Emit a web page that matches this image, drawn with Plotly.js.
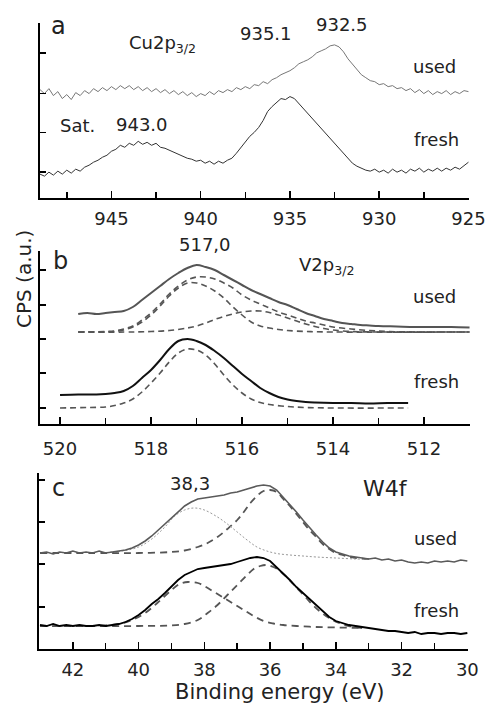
<!DOCTYPE html>
<html>
<head>
<meta charset="utf-8">
<script src="https://cdn.plot.ly/plotly-3.0.1.min.js"></script>
<style>html,body{margin:0;padding:0;background:#fff;}#chart{width:486px;height:703px;}</style>
</head>
<body>
<div id="chart"></div>
<script>
// ---------- Panel a: Cu2p3/2 ----------
const cuEnergy = [949,948.75,948.5,948.25,948,947.75,947.5,947.25,947,946.75,946.5,946.25,946,945.75,945.5,945.25,945,944.75,944.5,944.25,944,943.75,943.5,943.25,943,942.75,942.5,942.25,942,941.75,941.5,941.25,941,940.75,940.5,940.25,940,939.75,939.5,939.25,939,938.75,938.5,938.25,938,937.75,937.5,937.25,937,936.75,936.5,936.25,936,935.75,935.5,935.25,935,934.75,934.5,934.25,934,933.75,933.5,933.25,933,932.75,932.5,932.25,932,931.75,931.5,931.25,931,930.75,930.5,930.25,930,929.75,929.5,929.25,929,928.75,928.5,928.25,928,927.75,927.5,927.25,927,926.75,926.5,926.25,926,925.75,925.5,925.25,925];
const cuUsed = [109,105,110,103,107,100,104,99,106,103,108,105,110,107,111,108,112,109,113,110,113,109,112,108,111,107,110,106,109,105,108,104,107,103,106,102,105,103,107,104,108,106,109,107,111,109,112,110,114,113,117,115,119,121,124,126,128,131,135,137,139,142,146,148,150,153,154,152,147,140,135,129,124,121,118,117,114,115,112,113,110,111,108,110,106,109,105,108,104,107,105,108,104,107,105,108,107];
const cuFresh = [24,22,26,23,27,24,28,25,29,27,31,33,36,38,41,43,47,49,53,51,55,53,57,54,56,53,55,51,50,48,46,44,42,40,39,37,38,35,37,34,37,35,38,40,45,51,56,62,66,71,78,87,92,96,100,99,102,100,95,89,84,80,74,70,65,60,55,50,45,39,35,32,30,28,27,29,26,28,25,29,26,28,25,29,27,30,26,29,27,30,27,30,28,31,29,33,36];

// ---------- Panel b: V2p3/2 ----------
const vUsedE = [519.6,519.4,519.2,519.0,518.8,518.6,518.4,518.2,518.0,517.8,517.6,517.4,517.2,517.0,516.8,516.6,516.4,516.2,516.0,515.8,515.6,515.4,515.2,515.0,514.8,514.6,514.4,514.2,514.0,513.8,513.6,513.4,513.2,513.0,512.6,512.2,511.8,511.4,511.0];
const vUsed = [110,111,110,111,112,113,117,124,131,138,145,151,156,159,157,154,149,144,139,134,130,126,122,119,115,111,108,105,103,101,100,99,98.5,98,97.5,97,97,97,96.5];
const vUsedEnvE = [519.6,519.0,518.8,518.6,518.4,518.2,518.0,517.8,517.6,517.4,517.2,517.0,516.8,516.6,516.4,516.2,516.0,515.8,515.6,515.4,515.2,515.0,514.8,514.6,514.4,514.2,514.0,513.6,513.2,512.8,512.0,511.0];
const vUsedEnv = [92,92.5,93,95,98,104,111,120,130,138,144,147,147,145,141,136,129,124,120,116,112,109,106,103,101,99,97,95,93.5,92.5,92,92];
const vUsedC1E = [519.6,519.0,518.8,518.6,518.4,518.2,518.0,517.8,517.6,517.4,517.2,517.0,516.8,516.6,516.4,516.2,516.0,515.8,515.6,515.4,515.2,515.0,514.6,514.0,511.0];
const vUsedC1 = [92,92,92.5,94,97,102,109,118,128,136,141,141,138,133,126,117,109,102,98,96,94.5,93.5,92.5,92,92];
const vUsedC2E = [519.6,518.4,518.0,517.6,517.2,517.0,516.8,516.6,516.4,516.2,516.0,515.8,515.6,515.4,515.2,515.0,514.8,514.6,514.4,514.2,514.0,513.6,513.0,511.0];
const vUsedC2 = [92,92,92.5,93.5,96,98,101,104.5,107.5,110,112,113,113,111.5,109,106,103,100,97.5,95.5,94,92.5,92,92];
const vFreshE = [520.0,519.6,519.2,519.0,518.8,518.6,518.4,518.2,518.0,517.8,517.6,517.4,517.2,517.0,516.8,516.6,516.4,516.2,516.0,515.8,515.6,515.4,515.2,515.0,514.8,514.6,514.4,514.0,513.6,513.2,512.8,512.35];
const vFresh = [29,29.5,29.5,30,31,33,38,46,54,64,75,83,85,83,79,73,66,58,50,43,36,31,27,24.5,23,22,21.5,21,21,20.5,21,21];
const vFreshFitE = [520.0,519.4,519.0,518.8,518.6,518.4,518.2,518.0,517.8,517.6,517.4,517.2,517.0,516.8,516.6,516.4,516.2,516.0,515.8,515.6,515.4,515.0,514.6,514.0,512.35];
const vFreshFit = [16,16.5,17,18.5,21,25,32,41,51,62,71,75,74,69,60,49,39,31,25,21.5,19.5,17.5,16.5,16,16];

// ---------- Panel c: W4f ----------
const wE = [43.0,42.8,42.6,42.4,42.2,42.0,41.8,41.6,41.4,41.2,41.0,40.8,40.6,40.4,40.2,40.0,39.8,39.6,39.4,39.2,39.0,38.8,38.6,38.4,38.2,38.0,37.8,37.6,37.4,37.2,37.0,36.8,36.6,36.4,36.2,36.0,35.8,35.6,35.4,35.2,35.0,34.8,34.6,34.4,34.2,34.0,33.8,33.6,33.4,33.2,33.0,32.8,32.6,32.4,32.2,32.0,31.8,31.6,31.4,31.2,31.0,30.8,30.6,30.4,30.2,30.0];
const wUsed = [96,97,95,97,96,98,96,97,96,98,96,97,98,99,101,104,108,113,119,125,132,138,143,147,150,151,152,153,154,156,157,159,161,163,164,163,159,152,145,137,129,121,114,107,101,97,95,93,92,91,90,91,89,90,88,89,87,86,87,86,88,87,88,87,89,88];
const wFresh = [24,23,25,23,24,23,24,23,23,24,23,24,25,27,30,34,39,45,50,56,63,69,74,77,80,81,82,83,84,85,87,89,91,92,91,88,82,76,69,62,56,49,43,37,32,28,26,24,23,22,21,20,19,18,18,17,16,17,15,16,16,15,16,16,15,16];
const wUsedC2E = [43.0,41.0,40.0,39.0,38.6,38.2,37.9,37.6,37.3,37.0,36.8,36.6,36.4,36.2,36.0,35.8,35.6,35.4,35.2,35.0,34.8,34.6,34.4,34.2,34.0,33.8,33.6,33.4,33.0];
const wUsedC2 = [96,96,96,97,98.5,102,106,112,120,129,137,146,153,158,159,157,150,143,135,127,119,112,105,100,96,94,92,91,90];
const wUsedC1E = [41.0,40.5,40.0,39.6,39.2,38.9,38.6,38.3,38.0,37.6,37.3,37.0,36.7,36.4,36.1,35.8,35.4,35.0,34.6,34.0,33.4,33.0];
const wUsedC1 = [96.5,98,102,110,122,133,139,141,139,132,125,117,109,102,98,95.5,94,93,92,91,90,89.5];
const wFreshC1E = [43.0,41.5,41.0,40.6,40.2,39.8,39.4,39.0,38.75,38.5,38.2,38.0,37.7,37.4,37.1,36.8,36.5,36.2,35.9,35.6,35.2,34.6,34.0,33.2];
const wFreshC1 = [23,23,23.5,25,29,36,47,59,65,67,66,63,57,51,45,39,33,28,25.5,24,23,22,21.5,21];
const wFreshC2E = [43.0,40.0,39.0,38.6,38.2,37.9,37.6,37.3,37.0,36.7,36.5,36.3,36.1,35.9,35.7,35.5,35.3,35.1,34.9,34.7,34.5,34.3,34.1,33.9,33.6,33.2];
const wFreshC2 = [23,23,23.5,25,29,36,44,54,64,74,80,83,84,82,78,72,65,58,51,44,38,33,29,26,23,21];

// ---------- tick / axis values ----------
const yTicksA = [26,66,105,146];
const yTicksB = [16,51,85,119,154];
const yTicksC = [42,85,127,169];

const FONT = 'DejaVu Sans, Verdana, sans-serif';
const W = 486, H = 703;
const px = v => v / W;
const py = v => 1 - v / H;

const fitDash = {color:'#555', width:1.6, dash:'6px,4px', shape:'spline'};
const traces = [
  {x:cuEnergy, y:cuUsed, xaxis:'x', yaxis:'y', mode:'lines', line:{color:'#777', width:1, shape:'linear'}},
  {x:cuEnergy, y:cuFresh, xaxis:'x', yaxis:'y', mode:'lines', line:{color:'#333', width:1, shape:'linear'}},

  {x:vUsedC1E, y:vUsedC1, xaxis:'x2', yaxis:'y2', mode:'lines', line:fitDash},
  {x:vUsedC2E, y:vUsedC2, xaxis:'x2', yaxis:'y2', mode:'lines', line:fitDash},
  {x:vUsedEnvE, y:vUsedEnv, xaxis:'x2', yaxis:'y2', mode:'lines', line:fitDash},
  {x:vUsedE, y:vUsed, xaxis:'x2', yaxis:'y2', mode:'lines', line:{color:'#555', width:2, shape:'spline'}},
  {x:vFreshFitE, y:vFreshFit, xaxis:'x2', yaxis:'y2', mode:'lines', line:fitDash},
  {x:vFreshE, y:vFresh, xaxis:'x2', yaxis:'y2', mode:'lines', line:{color:'#111', width:2, shape:'spline'}},

  {x:wUsedC2E, y:wUsedC2, xaxis:'x3', yaxis:'y3', mode:'lines', line:{color:'#555', width:1.8, dash:'7px,5px', shape:'spline'}},
  {x:wUsedC1E, y:wUsedC1, xaxis:'x3', yaxis:'y3', mode:'lines', line:{color:'#999', width:1, dash:'2px,2px', shape:'spline'}},
  {x:wE, y:wUsed, xaxis:'x3', yaxis:'y3', mode:'lines', line:{color:'#5a5a5a', width:1.6, shape:'linear'}},
  {x:wFreshC1E, y:wFreshC1, xaxis:'x3', yaxis:'y3', mode:'lines', line:{color:'#555', width:1.8, dash:'7px,5px', shape:'spline'}},
  {x:wFreshC2E, y:wFreshC2, xaxis:'x3', yaxis:'y3', mode:'lines', line:{color:'#555', width:1.8, dash:'7px,5px', shape:'spline'}},
  {x:wE, y:wFresh, xaxis:'x3', yaxis:'y3', mode:'lines', line:{color:'#000', width:1.8, shape:'linear'}}
];

function xAxis(range, dtick, minorDtick, domain, anchor, standoff) {
  return {
    domain: domain, anchor: anchor, range: range, autorange:false,
    showline:true, linecolor:'#000', linewidth:2, mirror:false,
    ticks:'inside', ticklen:7, tickwidth:1.5, tickcolor:'#000', dtick:dtick, tick0:0,
    minor:{dtick:minorDtick, ticks:'inside', ticklen:6, tickwidth:1.5, tickcolor:'#000', showgrid:false},
    showgrid:false, zeroline:false, ticklabelstandoff: standoff,
    tickfont:{family:FONT, size:18, color:'#222'}
  };
}
function yAxis(range, ticks, domain, anchor) {
  return {
    domain: domain, anchor: anchor, range: range, autorange:false,
    showline:true, linecolor:'#000', linewidth:2,
    ticks:'inside', ticklen:6, tickwidth:1.5, tickcolor:'#000',
    tickmode:'array', tickvals:ticks, showticklabels:false,
    showgrid:false, zeroline:false
  };
}

const ann = (text, x, y, size, extra) => Object.assign({
  text:text, xref:'paper', yref:'paper', x:px(x), y:py(y),
  xanchor:'center', yanchor:'middle', showarrow:false,
  font:{family:FONT, size:size||18, color:'#222'}
}, extra||{});

const layout = {
  width:W, height:H, margin:{l:0,r:0,t:0,b:0},
  paper_bgcolor:'#fff', plot_bgcolor:'#fff', showlegend:false,
  xaxis: xAxis([949.0, 924.97], 5, 2.5, [px(40), px(469)], 'y', 3),
  yaxis: yAxis([0, 176], yTicksA, [py(198), py(23)], 'x'),
  xaxis2: xAxis([520.44, 510.99], 2, 1, [px(40), px(470)], 'y2', 7),
  yaxis2: yAxis([0, 173], yTicksB, [py(424), py(251)], 'x2'),
  xaxis3: xAxis([43.03, 29.98], 2, 1, [px(39), px(468)], 'y3', 3),
  yaxis3: yAxis([0, 176], yTicksC, [py(649), py(473)], 'x3'),
  annotations: [
    ann('a', 58, 26, 24),
    ann('Cu2p<sub>3/2</sub>', 127, 44, 18, {xanchor:'left'}),
    ann('935.1', 266, 33),
    ann('932.5', 342, 24),
    ann('used', 434, 66),
    ann('Sat.', 77, 125),
    ann('943.0', 142, 124),
    ann('fresh', 436, 140),

    ann('b', 60, 261, 24),
    ann('517,0', 205, 244),
    ann('V2p<sub>3/2</sub>', 297, 266, 18, {xanchor:'left'}),
    ann('used', 434, 297),
    ann('fresh', 436, 381),

    ann('c', 58, 488, 24),
    ann('38,3', 190, 483),
    ann('W4f', 385, 488, 22),
    ann('used', 435, 538),
    ann('fresh', 436, 610),

    ann('Binding energy (eV)', 280, 692, 21),
    ann('CPS (a.u.)', 24, 279, 20, {textangle:-90})
  ]
};

Plotly.newPlot('chart', traces, layout, {staticPlot:true, displayModeBar:false});
</script>
</body>
</html>
